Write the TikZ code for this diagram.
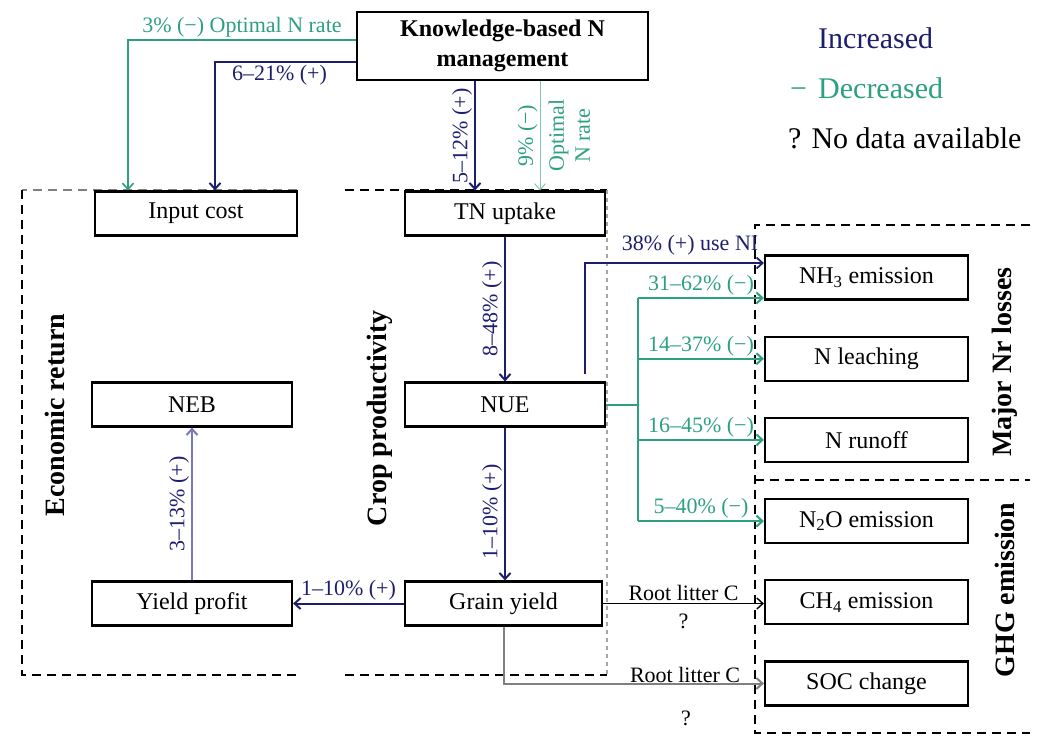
\documentclass[tikz,border=0pt]{standalone}
\usepackage{fontspec}
\setmainfont{Liberation Serif}
\usetikzlibrary{positioning,arrows.meta}
\definecolor{incblue}{RGB}{30,30,110}
\definecolor{decgreen}{RGB}{45,160,130}
\definecolor{paleblue}{RGB}{120,120,190}

\begin{document}
\begin{tikzpicture}[x=1pt, y=-1pt,
    node distance=35pt,
    box/.style={draw, rectangle, line width=2.2pt, fill=white, minimum width=200pt,
                minimum height=44pt, inner sep=2pt, font=\fontsize{24}{28}\selectfont},
    lbl/.style={inner sep=2pt, font=\fontsize{22}{26}\selectfont},
    legend/.style={inner sep=0pt, anchor=base west, font=\fontsize{30}{34}\selectfont},
    grp/.style={rotate=90, font=\bfseries\fontsize{28}{32}\selectfont},
    frame/.style={line width=2pt, dash pattern=on 9pt off 6pt},
    arrow/.style={-{Straight Barb[length=6pt,width=11pt]}, line width=2pt},
  ]
  \useasboundingbox (0,0) rectangle (1037,740);

  % group frames
  \draw[frame, gray] (297,190) -- (22,190);
  \draw[frame] (22,190) -- (22,675) -- (297,675);
  \draw[frame] (345,190) -- (607,190);
  \draw[frame] (345,675) -- (607,675);
  \draw[line width=2pt, gray!70, dash pattern=on 4pt off 4pt] (607,190) -- (607,675);
  \draw[frame] (1030,225) -- (755,225) -- (755,733) -- (1030,733);
  \draw[frame] (755,480) -- (1030,480);

  % boxes
  \node[box, minimum width=291pt, minimum height=68pt, align=center,
        font=\bfseries\fontsize{24}{30}\selectfont] (know) at (502.5,46) {Knowledge-based N\\management};
  \node[box, minimum width=202pt] (input) at (196,213.5) {Input cost};
  \node[box] (tn) at (505,213.5) {TN uptake};
  \node[box] (nue) at (505,404.5) {NUE};
  \node[box, minimum width=197pt] (grain) at (503.5,603.5) {Grain yield};
  \node[box] (neb) at (192,404.5) {NEB};
  \node[box] (yprofit) at (192,603.5) {Yield profit};
  \node[box, minimum width=203pt] (nh3) at (866.5,277.5) {NH\textsubscript{3} emission};
  \node[box, minimum width=203pt, below=of nh3] (leach) {N leaching};
  \node[box, minimum width=203pt, below=of leach] (runoff) {N runoff};
  \node[box, minimum width=203pt, below=of runoff] (n2o) {N\textsubscript{2}O emission};
  \node[box, minimum width=203pt, below=of n2o] (ch4) {CH\textsubscript{4} emission};
  \node[box, minimum width=203pt, below=of ch4] (soc) {SOC change};

  % group titles
  \node[grp] (econ) at (55,415) {Economic return};
  \node[grp] (crop) at (380,418) {Crop productivity};
  \node[grp] (nrloss) at (1005,362) {Major Nr losses};
  \node[grp] (ghg) at (1005,590) {GHG emission};

  % legend
  \node[legend, text=incblue] (inc) at (818,48) {Increased};
  \node[legend, text=decgreen] (decsym) at (790,98) {−};
  \node[legend, text=decgreen] (dec) at (818,98) {Decreased};
  \node[legend] (nodata) at (788,148) {? No data available};

  % management effects
  \draw[arrow, decgreen, line width=1.6pt] ([yshift=6pt]know.west) -| ([xshift=-68pt]input.north)
    node[lbl, above, pos=0.25, text=decgreen] {3\% (−) Optimal N rate};
  \draw[arrow, incblue] ([yshift=-16pt]know.west) -| ([xshift=19pt]input.north)
    node[lbl, below, pos=0.25, xshift=-6pt] {6–21\% (+)};
  \draw[arrow, incblue] ([xshift=-30pt]tn.north |- know.south) -- ([xshift=-30pt]tn.north)
    node[lbl, rotate=90, above, midway] {5–12\% (+)};
  \draw[arrow, decgreen!60, line width=1pt] ([xshift=35pt]tn.north |- know.south) -- ([xshift=35pt]tn.north)
    node[lbl, rotate=90, above, midway, text=decgreen] {9\% (−)}
    node[lbl, rotate=90, below, midway, align=center, text=decgreen, yshift=-6pt] {Optimal\\N rate};

  % crop chain
  \draw[arrow, incblue] (tn.south) -- (nue.north)
    node[lbl, rotate=90, above, midway, xshift=0pt] {8–48\% (+)};
  \draw[arrow, incblue] (nue.south) -- (nue.south |- grain.north)
    node[lbl, rotate=90, above, midway, xshift=-8pt] {1–10\% (+)};
  \draw[arrow, incblue] (grain.west) -- (grain.west -| yprofit.east)
    node[lbl, above, midway] {1–10\% (+)};
  \draw[arrow, paleblue] (yprofit.north) -- (neb.south)
    node[lbl, rotate=90, above, midway, text=incblue] {3–13\% (+)};

  % Nr losses
  \coordinate (nh3hi) at ([yshift=14.5pt]nh3.west);
  \coordinate (nh3lo) at ([yshift=-20.5pt]nh3.west);
  \coordinate (gsplit) at ([xshift=32pt]nue.east);
  \draw[arrow, incblue, line width=1.8pt] ([xshift=80pt,yshift=7pt]nue.north) |- (nh3hi);
  \node[lbl, text=incblue] (nilbl) at (690,245) {38\% (+) use NI};
  \draw[decgreen, line width=2pt] (nue.east) -- (gsplit);
  \draw[decgreen, line width=2pt] (gsplit |- nh3lo) -- (gsplit |- n2o.west);
  \draw[arrow, decgreen] (gsplit |- nh3lo) -- (nh3lo)
    node[lbl, above, midway] {31–62\% (−)};
  \draw[arrow, decgreen] (gsplit |- leach.west) -- (leach.west)
    node[lbl, above, midway] {14–37\% (−)};
  \draw[arrow, decgreen] (gsplit |- runoff.west) -- (runoff.west)
    node[lbl, above, midway] {16–45\% (−)};
  \draw[arrow, decgreen] (gsplit |- n2o.west) -- (n2o.west)
    node[lbl, above, midway] {5–40\% (−)};

  % GHG
  \draw[arrow, black, line width=1.4pt] (grain.east) -- (grain.east -| ch4.west)
    node[lbl, above, midway] {Root litter C}
    node[lbl, below, midway, yshift=-8pt] {?};
  \draw[arrow, gray, line width=2pt] (grain.south) |- (soc.west);
  \node[lbl] (litlbl) at (685,675) {Root litter C};
  \node[lbl] (litq) at (686,718) {?};
\end{tikzpicture}
\end{document}
